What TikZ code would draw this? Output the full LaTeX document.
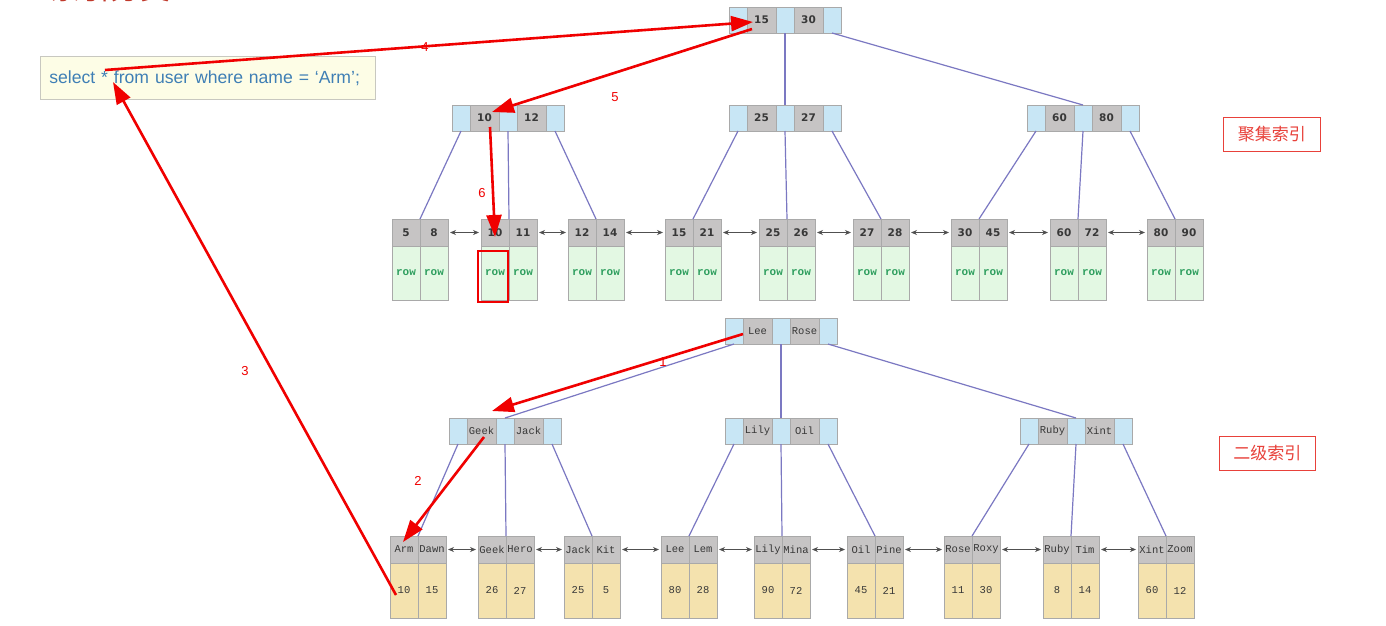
\documentclass[tikz,border=0pt]{standalone}
\usepackage{fontspec}
\setmainfont{Liberation Sans}
\newfontfamily\cjk{Noto Sans CJK SC}
\newfontfamily\monof{Liberation Mono}
\newfontfamily\dvs{DejaVu Sans}
\usetikzlibrary{arrows.meta,calc}

\definecolor{ptrblue}{HTML}{C8E6F5}
\definecolor{keygray}{HTML}{C6C4C4}
\definecolor{cellline}{HTML}{A9A9A9}
\definecolor{rowgreen}{HTML}{E3F8E3}
\definecolor{valyellow}{HTML}{F4E2AE}
\definecolor{treeline}{HTML}{7B78C2}
\definecolor{hlred}{HTML}{F00000}
\definecolor{querybg}{HTML}{FDFDE6}
\definecolor{queryline}{HTML}{C8C8C0}
\definecolor{querytxt}{HTML}{3F7FB5}
\definecolor{labelred}{HTML}{E8413A}
\definecolor{titlered}{HTML}{C0392B}
\definecolor{keytxt}{HTML}{383838}
\definecolor{rowtxt}{HTML}{2E9E5E}
\definecolor{linkgray}{HTML}{505050}

\tikzset{
  cell/.style={draw=cellline, line width=0.7pt, inner sep=0pt, outer sep=0pt, anchor=north west},
  keytext/.style={},
  bodytext/.style={},
  bodyfill/.style={fill=rowgreen},
  bodyh/.style={minimum height=54pt},
  ptrcell/.style={cell, fill=ptrblue, minimum width=18pt, minimum height=26pt},
  keycell/.style={cell, fill=keygray, minimum width=29pt, minimum height=26pt, keytext},
  lkey/.style={cell, fill=keygray, minimum width=28pt, minimum height=27pt, keytext},
  lbody/.style={cell, bodyfill, minimum width=28pt, bodyh, bodytext},
  tree/.style={draw=treeline, line width=1.2pt},
  link/.style={draw=linkgray, line width=0.8pt, {Stealth[length=6pt,width=5pt]}-{Stealth[length=6pt,width=5pt]}, shorten <=2pt, shorten >=2pt},
  hl/.style={draw=hlred, line width=2.6pt, -{Triangle[length=22pt,width=15pt]}},
  hlnum/.style={text=hlred, font=\fontsize{13}{13}\selectfont, inner sep=0pt},
  lab/.style={draw=labelred, line width=0.8pt, anchor=north west, text=labelred, font=\cjk\fontsize{17}{17}\selectfont, minimum height=34pt, inner sep=0pt}
}

\newcommand{\inode}[5]{%
  \node[ptrcell] (#1-p1) at (#2,#3) {};
  \node[keycell] (#1-a) at (#1-p1.north east) {#4};
  \node[ptrcell] (#1-p2) at (#1-a.north east) {};
  \node[keycell] (#1-b) at (#1-p2.north east) {#5};
  \node[ptrcell] (#1-p3) at (#1-b.north east) {};
}
\newcommand{\leafnode}[7]{%
  \node[lkey] (#1-a) at (#2,#3) {#4};
  \node[lkey] (#1-b) at (#1-a.north east) {#5};
  \node[lbody] (#1-c) at (#1-a.south west) {#6};
  \node[lbody] (#1-d) at (#1-c.north east) {#7};
}

\begin{document}
\begin{tikzpicture}[x=1pt,y=-1pt]
\useasboundingbox[fill=white] (0,0) rectangle (1386,625);

% partially visible title (cut off by the top edge, as in the reference)
\node[anchor=base west, text=titlered, font=\cjk\fontsize{30}{30}\selectfont, inner sep=0pt] (title) at (50,-1) {索引分类};

% query box
\node[draw=queryline, fill=querybg, line width=0.8pt, anchor=north west, minimum width=335pt, minimum height=43pt,
      text width=317pt, inner xsep=9pt, inner ysep=0pt, align=left, text=querytxt,
      font=\fontsize{17.6}{17.6}\selectfont] (q) at (40,56) {select * from user where name = ‘Arm’;};

% ---------------- clustered index ----------------
\begin{scope}[keytext/.style={font=\dvs\bfseries\fontsize{10.5}{10.5}\selectfont, text=keytxt},
              bodytext/.style={font=\monof\bfseries\fontsize{11}{11}\selectfont, text=rowtxt},
              bodyfill/.style={fill=rowgreen}, bodyh/.style={minimum height=54pt}]
\inode{r}{729}{7}{15}{30}
\inode{c1}{452}{105}{10}{12}
\inode{c2}{729}{105}{25}{27}
\inode{c3}{1027}{105}{60}{80}
\leafnode{L1}{392}{219}{5}{8}{row}{row}
\leafnode{L2}{481}{219}{10}{11}{row}{row}
\leafnode{L3}{568}{219}{12}{14}{row}{row}
\leafnode{L4}{665}{219}{15}{21}{row}{row}
\leafnode{L5}{759}{219}{25}{26}{row}{row}
\leafnode{L6}{853}{219}{27}{28}{row}{row}
\leafnode{L7}{951}{219}{30}{45}{row}{row}
\leafnode{L8}{1050}{219}{60}{72}{row}{row}
\leafnode{L9}{1147}{219}{80}{90}{row}{row}
\end{scope}

\draw[tree] (r-p1.south) -- ($(c1-p2.north)+(5,0)$);
\draw[tree] (r-p2.south) -- (c2-p2.north);
\draw[tree] (r-p3.south) -- (c3-p2.north);
\draw[tree] (c1-p1.south) -- (L1-a.north east);
\draw[tree] (c1-p2.south) -- (L2-a.north east);
\draw[tree] (c1-p3.south) -- (L3-a.north east);
\draw[tree] (c2-p1.south) -- (L4-a.north east);
\draw[tree] (c2-p2.south) -- (L5-a.north east);
\draw[tree] (c2-p3.south) -- (L6-a.north east);
\draw[tree] (c3-p1.south) -- (L7-a.north east);
\draw[tree] (c3-p2.south) -- (L8-a.north east);
\draw[tree] (c3-p3.south) -- (L9-a.north east);
\foreach \i/\j in {1/2,2/3,3/4,4/5,5/6,6/7,7/8,8/9}
  \draw[link] (L\i-b.east) -- (L\j-a.west);

% ---------------- secondary index ----------------
\begin{scope}[keytext/.style={font=\monof\fontsize{10.5}{10.5}\selectfont, text=keytxt},
              bodytext/.style={font=\monof\fontsize{10.5}{10.5}\selectfont, text=keytxt},
              bodyfill/.style={fill=valyellow}, bodyh/.style={minimum height=55pt}]
\inode{s}{725}{318}{Lee}{Rose}
\inode{s1}{449}{418}{Geek}{Jack}
\inode{s2}{725}{418}{Lily}{Oil}
\inode{s3}{1020}{418}{Ruby}{Xint}
\leafnode{M1}{390}{536}{Arm}{Dawn}{10}{15}
\leafnode{M2}{478}{536}{Geek}{Hero}{26}{27}
\leafnode{M3}{564}{536}{Jack}{Kit}{25}{5}
\leafnode{M4}{661}{536}{Lee}{Lem}{80}{28}
\leafnode{M5}{754}{536}{Lily}{Mina}{90}{72}
\leafnode{M6}{847}{536}{Oil}{Pine}{45}{21}
\leafnode{M7}{944}{536}{Rose}{Roxy}{11}{30}
\leafnode{M8}{1043}{536}{Ruby}{Tim}{8}{14}
\leafnode{M9}{1138}{536}{Xint}{Zoom}{60}{12}
\end{scope}

\draw[tree] (s-p1.south) -- (s1-p2.north);
\draw[tree] (s-p2.south) -- (s2-p2.north);
\draw[tree] (s-p3.south) -- (s3-p2.north);
\draw[tree] (s1-p1.south) -- (M1-a.north east);
\draw[tree] (s1-p2.south) -- (M2-a.north east);
\draw[tree] (s1-p3.south) -- (M3-a.north east);
\draw[tree] (s2-p1.south) -- (M4-a.north east);
\draw[tree] (s2-p2.south) -- (M5-a.north east);
\draw[tree] (s2-p3.south) -- (M6-a.north east);
\draw[tree] (s3-p1.south) -- (M7-a.north east);
\draw[tree] (s3-p2.south) -- (M8-a.north east);
\draw[tree] (s3-p3.south) -- (M9-a.north east);
\foreach \i/\j in {1/2,2/3,3/4,4/5,5/6,6/7,7/8,8/9}
  \draw[link] (M\i-b.east) -- (M\j-a.west);

% labels
\node[lab, minimum width=97pt] (lab1) at (1223,117) {聚集索引};
\node[lab, minimum width=96pt] (lab2) at (1219,436) {二级索引};

% highlighted row
\node[draw=hlred, line width=2pt, anchor=north west, minimum width=30pt, minimum height=51pt, inner sep=0pt] (rowbox) at (477,250) {};

% red path
\coordinate (a4s) at (105,70);  \coordinate (a4e) at (753,22);
\coordinate (a5s) at (752,29);  \coordinate (a5e) at (492,112);
\coordinate (a6s) at (490,127); \coordinate (a6e) at (495,237);
\coordinate (a1s) at (743,334); \coordinate (a1e) at (492,411);
\coordinate (a2s) at (484,437); \coordinate (a2e) at (403,542);
\coordinate (a3s) at (396,595); \coordinate (a3e) at (113,82);
\draw[hl] (a1s) -- (a1e);
\draw[hl] (a2s) -- (a2e);
\draw[hl] (a3s) -- (a3e);
\draw[hl] (a4s) -- (a4e);
\draw[hl] (a5s) -- (a5e);
\draw[hl] (a6s) -- (a6e);

\node[hlnum] (n1) at (663,362) {1};
\node[hlnum] (n2) at (418,481) {2};
\node[hlnum] (n3) at (245,371) {3};
\node[hlnum] (n4) at (425,47) {4};
\node[hlnum] (n5) at (615,97) {5};
\node[hlnum] (n6) at (482,193) {6};
\end{tikzpicture}
\end{document}
